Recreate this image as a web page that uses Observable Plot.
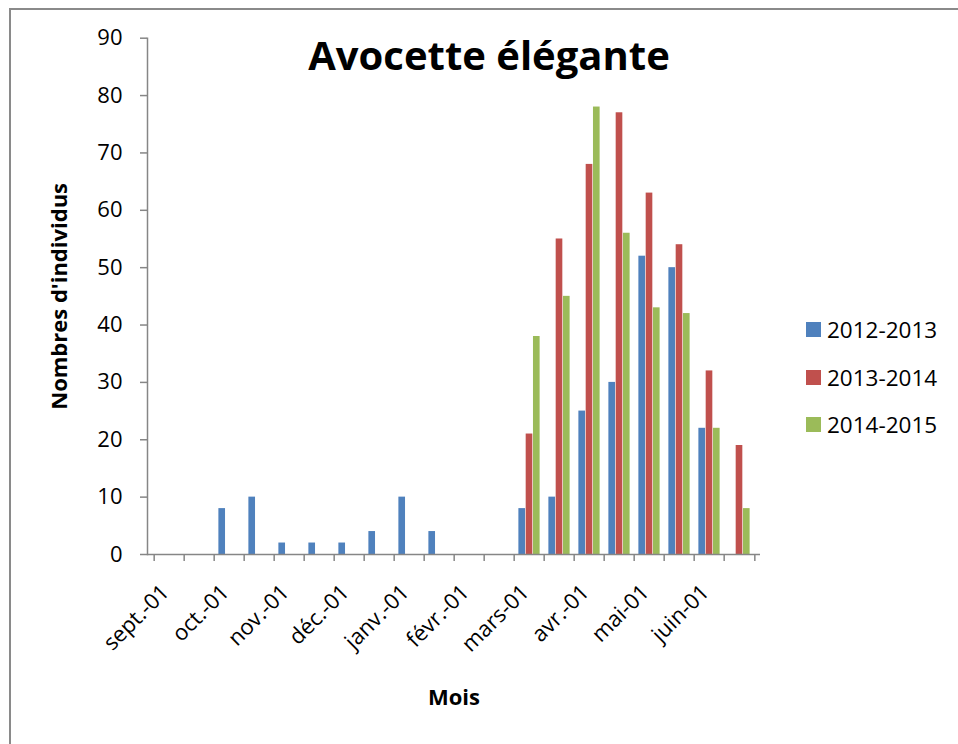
<!DOCTYPE html>
<html>
<head>
<meta charset="utf-8">
<script src="https://cdn.jsdelivr.net/npm/d3@7"></script>
<script src="https://cdn.jsdelivr.net/npm/@observablehq/plot@0.6"></script>
<style>
  html, body { margin: 0; padding: 0; background: #fff; }
  #wrap { position: relative; width: 958px; height: 744px; overflow: hidden; font-family: "Open Sans", sans-serif; }
  #border { position: absolute; left: 9px; top: 8px; width: 1200px; height: 1200px; border-left: 2px solid #8a8a8a; border-top: 2px solid #8a8a8a; }
  #chart { position: absolute; left: 0; top: 0; }
  #legend { position: absolute; left: 806px; top: 306px; }
  .item { display: flex; align-items: center; height: 47.5px; font-size: 22.5px; color: #000; }
  .sw { width: 15px; height: 15px; margin-right: 6px; }
</style>
</head>
<body>
<div id="wrap">
  <div id="border"></div>
  <div id="chart"></div>
  <div id="legend"></div>
</div>
<script>
const categories = ["sept.-01","sept.-15","oct.-01","oct.-15","nov.-01","nov.-15","déc.-01","déc.-15",
  "janv.-01","janv.-15","févr.-01","févr.-15","mars-01","mars-15","avr.-01","avr.-15",
  "mai-01","mai-15","juin-01","juin-15"];
const tickLabels = ["sept.-01","oct.-01","nov.-01","déc.-01","janv.-01","févr.-01","mars-01","avr.-01","mai-01","juin-01"];
const seriesNames = ["2012-2013","2013-2014","2014-2015"];
const v2012 = [0,0,8,10,2,2,2,4,10,4,0,0,8,10,25,30,52,50,22,0];
const v2013 = [0,0,0,0,0,0,0,0,0,0,0,0,21,55,68,77,63,54,32,19];
const v2014 = [0,0,0,0,0,0,0,0,0,0,0,0,38,45,78,56,43,42,22,8];
const yTicks = [0,10,20,30,40,50,60,70,80,90];
const colors = ["#4F81BD","#C0504D","#9BBB59"];
const title = "Avocette élégante";
const yLabel = "Nombres d'individus";
const xLabel = "Mois";

const seriesValues = [v2012, v2013, v2014];
const data = seriesValues.map((vals, s) => categories.map((c, i) => ({cat: c, value: vals[i], series: seriesNames[s]})));

const W = 958, H = 744;
const mL = 147, mR = 198, mT = 37.7, mB = 190;
const bw = (W - mL - mR) / categories.length;
const barW = bw / 4.2;
const gap = (bw - 3 * barW) / 2;
const gray = "#868686";

const barMarks = data.map((d, s) => Plot.barY(d.filter(r => r.value > 0), {
  x: "cat", y: "value", fill: colors[s],
  insetLeft: gap + s * barW,
  insetRight: bw - gap - (s + 1) * barW
}));

const chart = Plot.plot({
  width: W, height: H,
  marginLeft: mL, marginRight: mR, marginTop: mT, marginBottom: mB,
  style: {fontFamily: "Open Sans, sans-serif", fontSize: "22px", color: "#000", background: "transparent", overflow: "visible"},
  x: {domain: categories, padding: 0, range: [mL, W - mR]},
  y: {domain: [0, 90], range: [H - mB, mT]},
  marks: [
    ...barMarks,
    Plot.ruleY([0], {stroke: gray, strokeWidth: 1.5}),
    Plot.frame({anchor: "left", stroke: gray, strokeWidth: 1.5}),
    Plot.axisY({ticks: yTicks, tickSize: 7, tickPadding: 18, stroke: gray, fill: "#000", fontSize: 22, label: null, strokeWidth: 1.5}),
    Plot.axisX(categories, {tickSize: 7, dx: -bw / 2, stroke: gray, fill: "none", label: null, strokeWidth: 1.5}),
    Plot.axisX([categories[categories.length - 1]], {tickSize: 7, dx: bw / 2, stroke: gray, fill: "none", label: null, strokeWidth: 1.5}),
    Plot.axisX(tickLabels, {tickSize: 0, tickPadding: 34, dx: -4, tickRotate: -45, fill: "#000", fontSize: 22, label: null}),
    Plot.text([title], {frameAnchor: "top", dx: 35, dy: 19.3, fontSize: 40, fontWeight: "bold", textAnchor: "middle", lineAnchor: "middle"}),
    Plot.text([yLabel], {frameAnchor: "left", dx: -88, rotate: -90, fontSize: 22, fontWeight: "bold", textAnchor: "middle", lineAnchor: "middle"}),
    Plot.text([xLabel], {frameAnchor: "bottom", dy: 143, fontSize: 22, fontWeight: "bold", textAnchor: "middle", lineAnchor: "middle"})
  ]
});
document.getElementById("chart").appendChild(chart);

const legend = document.getElementById("legend");
seriesNames.forEach((name, i) => {
  const item = document.createElement("div");
  item.className = "item";
  const sw = document.createElement("div");
  sw.className = "sw";
  sw.style.background = colors[i];
  const t = document.createElement("span");
  t.textContent = name;
  item.appendChild(sw);
  item.appendChild(t);
  legend.appendChild(item);
});
</script>
</body>
</html>
